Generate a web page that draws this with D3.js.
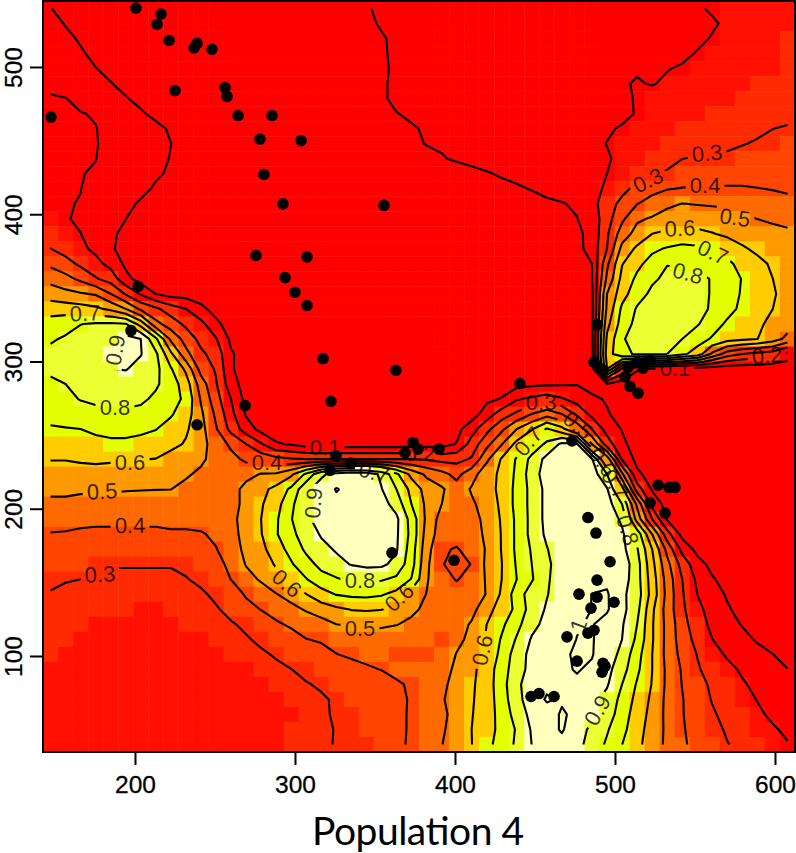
<!DOCTYPE html>
<html>
<head>
<meta charset="utf-8">
<script src="https://cdn.jsdelivr.net/npm/d3@7"></script>
<style>
html, body { margin: 0; padding: 0; background: #fff; }
svg { display: block; }
</style>
</head>
<body>
<div id="chart"></div>
<script>
// density, percent, top row first, 50 columns by 50 rows
var densityRows = [
[10.1,9,8,7,6,6,6,6,6,6, 6,6,6,6,6,6,6,6,6,6, 8,9.5,11,11,12,12,13,13,14,14, 15,15,16,16,17,17,17,17,18,18, 18,18,19,19.5,20.5,21,21,22,22,23],
[13,9.5,8,7,6,6,6,6,6,6, 6,6,6,6,6,6,6,6,6,6, 8,9,10.5,11,12,12,13,13,14,14, 15,15,16,16,17,17,17,17,18,18, 18,18,18,19,19.5,20.7,21,22,22,23],
[15,12,9,8,7,6,6,6,6,6, 6,6,6,6,6,6,6,6,6,6, 7,8.5,9.5,11,12,12,13,13,14,14, 15,15,16,16,17,17,17,18,18,18, 18,18,19,19,20.3,21.5,22,23,23,24],
[16,14,11,8,7,6,6,6,6,6, 6,6,6,6,6,6,6,6,6,6, 7,8,9,11.5,12,12,13,13,14,14, 15,15,16,16,17,17,18,18,18,18, 18,19,19,20.3,21.5,22,22,23,23,24],
[17,15,13,10.2,8,6,6,6,6,6, 6,6,6,6,6,6,6,6,6,6, 7,8,8.5,11.5,12,12,13,13,14,14, 15,15,16,16,17,17,18,18,18.5,19.5, 19,19.8,20.5,21.5,22,22,23,23,23.5,24.5],
[19,17,15,13,10.3,8,6,6,6,6, 6,6,6,6,6,6,6,6,6,6, 7,8,9,11.5,12,12,13,13,14,14, 15,15,16,16,17,17,18,18.5,19.5,20.4, 19.7,20.8,22,22,23,23,23.5,24,24,25],
[20.4,20.2,18,16,13,10.5,8,6,6,6, 6,6,6,6,6,6,6,6,6,6, 7,8,9,11.5,12,13,13,14,14,15, 15,16,16,17,17,18,18,18.5,19.5,20.2, 22,22.5,23,23,23.5,23.5,24.5,24.5,25,26],
[20.4,20.4,20.3,19.5,16,14,11,8,6,6, 6,6,6,6,6,6,6,6,6,6, 7,7,8.5,9.8,11,12,13,13,14,14, 15,15,16,16,17,17,18,18.5,19,20.3, 22,22.5,23,23.5,24.5,24.5,25,26,26.5,27],
[20.5,20.5,20.4,20.2,18,16,14,12,9,6, 6,6,6,6,6,6,6,6,6,6, 6,7,7,8,9.4,10.7,11,11,12,12, 13,14,14,15,16,17,18,19.5,20.4,21.5, 22.5,23.5,24.5,24.5,25.5,26,27,28,29.9,31],
[20.5,20.5,20.4,20.2,19,17,15,13,10.1,7, 6,6,6,6,6,6,6,6,6,6, 6,6,7,7,9,10.2,10.5,11,11.5,12, 12.5,13,14,15,16,17,19,20.1,21,22, 23,24.5,25,26,26.5,28,29.5,31,32,33],
[20.5,20.4,20.3,20.1,18,17,15,13,9.5,7, 6,6,6,6,6,6,6,6,6,6, 6,6,6,7,7,8.5,9.7,10.5,11,11.5, 12,12.5,13.5,14,15,16,18,19.6,21,23, 24.5,26,29.9,31,32,32,33.5,33.5,34,35],
[20.5,20.4,20.2,19.5,17,16,13,11,9,7, 6,6,6,6,6,6,6,6,6,6, 6,6,6,6,6.5,7,7.5,8,9,9.7, 10.4,11,12,13,14,16,18,20,22,26, 29.5,31.5,34,35,36,36,36,36,36.5,37],
[20.5,20.4,20.1,18,16,14,12,9,7,6, 6,6,6,6,6,6,6,6,6,6, 6,6,6,6,6,6,7,7,8,8.5, 9,9.5,10.2,11.5,13,15,18,21,27,33, 37,39.5,40.5,41,41,41,41,40.3,39.6,39],
[20.5,20.3,19.8,17,15,12,9,6,6,6, 6,6,6,6,6,6,6,6,6,6, 6,6,6,6,6,6,6,6,7,7, 7,8,8.5,9,9.6,11,17,25,33,39.7, 44,48,50.2,49.5,49,48.5,47.5,46,44,42],
[21,20.5,19,16,13,10.1,7,6,6,6, 6,6,6,6,6,6,6,6,6,6, 6,6,6,6,6,6,6,6,6,6, 6,6,7,7,8,9.8,14,26,38,48.5, 51,54,55,56,55,54,51.5,49.9,48,47],
[27,22,20.1,17,11.5,8,6,6,6,6, 6,6,6,6,6,6,6,6,6,6, 6,6,6,6,6,6,6,6,6,6, 6,6,6,6,6,8,13,28.5,45,53.5, 60,62,63,62,60.5,58,57,56,54,52],
[30.2,26,22,18,11.5,6,6,6,6,6, 6,6,6,6,6,6,6,6,6,6, 6,6,6,6,6,6,6,6,6,6, 6,6,6,6,6,7,14,30,53,62, 68,71,73,72,69.5,66.5,61,58.5,56,54],
[38,34,28,23,17,8,6,6,6,6, 6,6,6,6,6,6,6,6,6,6, 6,6,6,6,6,6,6,6,6,6, 6,6,6,6,6,7,10,38,59.5,67.5, 74,79.7,79,78,76,72,67,62,59,56],
[47,43,38,31,26,13,6,6,6,6, 6,6,6,6,6,6,6,6,6,6, 6,6,6,6,6,6,6,6,6,6, 6,6,6,6,6,7,9.5,42,63,72, 78.5,82,83,82,79.5,75,69.5,65,60.1,57],
[55,53,51,49,40.1,29,19,9.9,6,6, 6,6,6,6,6,6,6,6,6,6, 6,6,6,6,6,6,6,6,6,6, 6,6,6,6,6,7,8,50,66,76, 82,85,86,84,79,74.5,69,65,61,57],
[66,65,64,62,58,50.1,38,32,25,20.1, 12,7,6,6,6,6,6,6,6,6, 6,6,6,6,6,6,6,6,6,6, 6,6,6,6,6,7,8,52,72,81, 85,87,86,85,78,73,68,64,60.1,56],
[74,77,79.8,81,81.5,80.5,66,43,35,28, 23,12,6,6,6,6,6,6,6,6, 6,6,6,6,6,6,6,6,6,6, 6,6,6,6,6,7,8,57,74.5,83, 86,86,84,81,74,68.5,65,61.5,58,55],
[79,81,83,85,87,93,90,72,48,36, 27,20.8,8,6,6,6,6,6,6,6, 6,6,6,6,6,6,6,6,6,6, 6,6,6,6,6,7,8,62,79,84, 84,84,80,74,69,64,62,60.1,55,47],
[82,83,85,87,90,96,90.5,82,62,43, 32,26,11,6,6,6,6,6,6,6, 6,6,6,6,6,6,6,6,6,6, 6,6,6,6,6,7,7,65,78,81, 81,80,72,66,48,35,30,27,25,17],
[82,84,85,87,89.8,90.5,87,83,71,58, 36,29,11,6,6,6,6,6,6,6, 6,6,6,6,6,6,6,6,6,6, 6,6,6,6,6,6,5,60,28,11, 8,7,6,5,4,3,3,3,2,2],
[78,80,82,84,85,85,84,81.5,75,65, 45,31,14,6,6,6,6,6,6,6, 6,6,6,6,6,6,6,6,6,6, 6,7,8,8.5,9,9.6,6,9.5,5,4, 4,4,4,4,4,3,3,3,3,3],
[76,77.5,80.5,82,83,83,82,78,74,68, 49,34,20,7,6,6,6,6,6,6, 6,6,6,6,6,6,6,6,6,8, 10.5,19,22,25,21,16,12,9,6,5, 4,4,4,4,4,3,3,3,3,3],
[73,74,75.5,77,78,78,77,74,71,65, 52,38,23,9,6,6,6,6,6,6, 6,6,6,6,6,6,6,6,5,15, 25,32,40.2,46,40.2,28,17,11,6,5, 4,4,4,4,4,3,3,3,3,3],
[69,69.5,70,72,73,73,72,70.3,66.5,61.5, 53.5,41,27,15,7,5,5,5,5,5, 5,5,5,5,5,5,7,7,16,27, 38,50,59,71,63,48,30,16,9.5,6, 4,4,4,4,4,3,3,3,3,3],
[65,65,66,67,68,68,67,66,63,59, 53,46,38,30.1,21,11,9,6,5,5, 5,5,5,5,6,6,6,10.5,24,37, 49.5,63,73,82,92,91,50,25,12,6, 4,4,4,4,4,3,3,3,3,3],
[60.3,60.3,61,61,61,61,60.3,59.8,56,53, 51.5,47,43,38,36,33,31,30,30,30, 30,30,30,30,30,29,27,27,31,48, 61,71,83,93,96,97,91,56,19,7, 4,4,4,4,3,3,3,3,3,3],
[57,57,57,58,57,57,56,55,53.5,51, 48.5,45,44,47,50.5,51,58,72,88,94, 97,96,88,72,57,48,43,37,46,56, 62,72,85,95,97,98,96,80,42,12, 6,4,4,4,3,3,3,3,3,3],
[52,52,51,51,51,50.5,50.3,50.2,50.1,48, 45,43,46,53,57,63,72,88,95,100.5, 98,98,90.5,80,67,56,51.5,44,51,57, 62,73,83,93,97,98,97,91,64,25, 9,6,4,4,3,3,3,3,3,3],
[48,48,48,48,47,47,47,46,46,45, 44,43,46,53,59,66,78,88,96,98, 99,99,94,86,70,58,50.1,44,48.5,54, 62,73,83,93,97,98,98,95,80,48, 17,6,4,4,3,3,3,3,3,3],
[44,44,43,43,43,43,43,43,44,44, 44,44,48,53,60,68.5,79.5,88,94,99, 99,99,99,92,76,58,46,41.5,46,53, 61,72,83,93,98,98,98,97,88,56, 30,9,4,4,3,3,3,3,3,3],
[39.5,39,38,37,37,37,37,37,38,38, 39,42,48,52,59.5,69,78,84,91,96, 98,98,98,91.5,77,56,45,43,44,52.5, 60.5,72,83,92,98,98,98,99,92,76, 50.1,24,7,4,3,3,3,3,3,3],
[37,36,35,35,35,35,35,35,35,36, 37,39.5,46,52,57,66,73,82,87,91, 95,97,97,91,75,54,41,39.4,43,51, 60.5,72,81,89.5,96,98,98,99,93,81, 60.1,37,17,7,3,3,3,3,3,3],
[34,33,33,32,31,31,31,31,31,32, 33,36,43,50.5,55,61,69,76,83,87, 90.5,92,92,87,74,52,41,35,40.5,52, 59.8,71,80,88,95,97,98,98,96,84, 63,43,26,14,7,3,3,3,3,3],
[31.5,30.6,30,28.5,27,27,27,27,27,29.5, 32,36,40.1,47,51,57,61.5,69.5,76,79, 82,83,81,78,69.5,51,43,39.5,43,51, 60,70,79,89,94,97,98,98,95,84, 65,46,30.1,18,11,6,3,3,3,3],
[29.5,28,27,26,25,25,25,25,25,26, 28.5,32,35,41,46,49.5,54,59.8,66,70.5, 72,72.5,71,67,55,49.8,44.5,43.5,44.5,50.5, 61.5,75,85,89.5,95,98,100.1,101,92,85, 66,47,31,20,14,9,5,3,3,3],
[27,26,25,24,24,24,23,23,24,25, 26,29,33,37,40.3,44,47,51,55,58, 60.5,61,60.3,58,53,47,45,44,47,56, 65,72,85,91,97,98,100.1,101,93,83, 62,46,32,22,17,11,7,4,3,3],
[26,25,24,23,23,23,23,23,23,24, 25,26,29,32,35,38.5,41.5,44,46,50, 51,52,52,50.5,47,44,42,46,51,60, 68,77,87,93,97,99.6,100.5,97,91,80, 61,47,34,24,18,13,9.5,6,4,3],
[25,24,23,22,22,22,22,22,22,23, 23,24,26,29,32,34,36,39.8,41,43, 43,44,44,43,42,42,41,47,53,61, 71,81,91,96,98,100.1,100.6,96,90,78, 61,47,35,27,20.1,16,12.5,9,6,4],
[24,23,22,21,21,21,21,21,21,21, 22,22,24,25,28.5,31,33,35,37,39.8, 41.3,42,42,41,40.5,41,42,50.5,54,62, 73,85,93,97,99,100.8,100.4,96,87,74, 60.1,47,37,29.7,23,19,16,13,10.2,7],
[23,22,21,21,21,21,21,21,21,21, 21,21,22,23,25,28,29.9,32,34,36, 37,39,40.2,42,42,43,46,52,57.5,65, 75,86,93,97,99,100.4,99,93,84,72, 60.1,48,39,31,26.5,22,19,16.5,13,10.2],
[22,21,21,21,21,21,21,21,21,21, 21,21,21,22,23,25,27,29.5,31,33, 34,35,36.5,39,41,43,48,53,58.5,65, 76,88,95,98,99,99,97,91,80,69, 59.5,48,39.7,33,28.5,24.5,20.7,18.5,16,13],
[21,21,21,21,21,21,21,21,21,21, 21,21,21,21,22,23,25,27,29,31, 33,34,36,37.5,41,46,49,54,59,65, 75,87,95,101,99,98,93,87,77,67, 58,47.5,40.5,34.5,29.5,26,23,19.7,18,15],
[21,21,21,21,21,21,21,21,21,21, 21,21,21,21,21,22,23,25,29.6,30.3, 32,33,35,38,41,44,48,53,59.5,65, 74,84,93,96,101,98,92,85,75,65, 57,47.5,40.5,35.5,31,27.5,24.5,21.5,18.5,16],
[21,21,21,21,21,21,21,21,21,21, 21,21,21,21,22,22,24,26,28,30.5, 32,33,35,38,41,45,49,53,60,66, 73,81,91,96,101,94,88,81,73,63.5, 56,48,41,36,32.5,29,26,23.5,21,18.5],
[22,22,21,21,21,21,21,21,21,21, 21,21,22,22,22,23,25,27,28.5,30.5, 31,32,35,38.5,41,45,49.8,53,59.8,68, 73,82,90.1,96,97,93,86,78.5,70.1,62.5, 55,48,41.5,37,33,30.3,28,25.5,23.5,20.5]
];

var colorBreaks = [20.6, 24, 33, 41.5, 50, 58.5, 68, 80, 90];
var colorList = ["#ff0000", "#ff1000", "#ff2a00", "#ff4500", "#ff6a00", "#ff9900", "#ffcc00", "#e3ff00", "#ecff33", "#ffffbe"];
var contourLevels = [10, 20, 30, 40, 50, 60, 70, 80, 90, 100];

var xTicks = [200, 300, 400, 500, 600];
var yTicks = [100, 200, 300, 400, 500];

var dotX = [200.6,216.3,213.8,221.3,238.8,236.9,248.1,225,256.3,257.5,264.4,285.6,147.5,278.1,303.8,280.6,292.5,355.6,275.6,307.5,293.8,300,307.5,201.9,197.5,317.5,363.1,322.5,268.8,238.8,440.6,
  325.6,335,321.9,360.6,368.8,373.8,376.9,390,399.4,
  473.1,483.1,488.1,496.9,488.8,477.5,488.8,499.4,485,486.9,483.1,470,476.3,492.5,493.8,491.9,447.5,452.5,461.9,
  526.9,533.8,537.5,521.9,531.3,
  488.8,489.4,492.5,506.3,509.4,514.4,508.1,513.8,517.5,520,521.9,486.9];
var dotY = [540,536,529,518,516,513,512,484,486,480,467,467,466,451,450,427,407,406,372,371,357,347,338,351,321,302,294,273,270,257,285,
  236,231,226,170,238,245,240.5,240.5,165,
  246,194,183.5,164,151.5,142,140,136.5,132.5,117.5,115.5,113,96.5,95,93,89,72.5,74.5,72.5,
  216,214.5,214.5,204,197,
  325,296,294,289.5,283,278.5,296,299.5,295.5,299.5,301,299.5];

var labelLevel = [70,90,80,60,50,40,30,40,10,20,70,90,60,80,50,60,60,70,30,50,60,70,80,90,30,30,40,50,60,70,80,10,20,100];
var labelText = ["0.7","0.9","0.8","0.6","0.5","0.4","0.3","0.4","0.1","0.2","0.7","0.9","0.6","0.8","0.5","0.6","0.6","0.7","0.3","0.5","0.6","0.7","0.8","0.9","0.3","0.3","0.4","0.5","0.6","0.7","0.8","0.1","0.2","1"];
var labelX = [168.8,187.5,187.5,196.9,179.4,196.9,178.1,282.5,318.8,378.1,349.4,311.3,295,340.6,340.6,365,416.9,445.6,453.8,476.9,492.5,500,508.1,488.8,520.6,557.5,556.3,575,540.6,561.3,545.6,537.5,595,476.9];
var labelY = [332.9,307.7,269,231.7,212,188.9,155.6,231.7,241.8,237.8,224.9,203.8,149.5,151.5,118.9,140,104,245.9,272.4,256.8,231.7,216.7,185.5,63.2,423.2,441.6,419.8,398,390.6,374.3,360.1,295.5,304.3,120.9];
var labelAngle = [-2,-80,0,0,-3,-1,-3,0,0,0,15,-85,40,0,0,-42,-78,-50,0,40,55,58,72,-60,-25,-5,0,8,-3,25,15,0,-5,-70];

var svgWidth = 796;
var svgHeight = 853;
var left = 43, right = 795, top_ = 1, bottom = 752;

var xMin = 142.5, xMax = 612.5, yMin = 34.8, yMax = 544.8;
var nCols = 50, nRows = 50;
var cellW = (xMax - xMin) / nCols;
var cellH = (yMax - yMin) / nRows;

var xScale = d3.scaleLinear().domain([xMin, xMax]).range([left, right]);
var yScale = d3.scaleLinear().domain([yMin, yMax]).range([bottom, top_]);
var colorScale = d3.scaleThreshold().domain(colorBreaks).range(colorList);

var svg = d3.select("#chart").append("svg")
    .attr("width", svgWidth)
    .attr("height", svgHeight);

// heat cells
var cells = [];
densityRows.forEach(function(row, r) {
    row.forEach(function(v, c) {
        cells.push({r: r, c: c, v: v});
    });
});
svg.append("g").selectAll("rect")
    .data(cells)
    .enter().append("rect")
    .attr("x", d => xScale(xMin + d.c * cellW))
    .attr("y", d => yScale(yMax - d.r * cellH))
    .attr("width", xScale(xMin + cellW) - xScale(xMin) + 0.5)
    .attr("height", yScale(yMin) - yScale(yMin + cellH) + 0.5)
    .attr("fill", d => colorScale(d.v));

// contour rings come back closed along the edge of the grid, cut those parts off
function openLines(ring) {
    var inside = p => p[0] >= 0.5 && p[0] <= nCols - 0.5 && p[1] >= 0.5 && p[1] <= nRows - 0.5;
    var pts = ring.slice(0, ring.length - 1);
    var start = pts.findIndex(p => !inside(p));
    if(start == -1) return [ring];
    var lines = [];
    var current = [];
    for(var i = 0; i < pts.length; i++) {
        var p = pts[(start + i) % pts.length];
        if(inside(p)) {
            current.push(p);
        } else if(current.length) {
            lines.push(current);
            current = [];
        }
    }
    if(current.length) lines.push(current);
    return lines;
}

var contourLine = d3.line()
    .x(p => xScale(xMin + p[0] * cellW))
    .y(p => yScale(yMax - p[1] * cellH));

var flat = [].concat.apply([], densityRows);
var contourSets = d3.contours().size([nCols, nRows]).thresholds(contourLevels)(flat);

var defs = svg.append("defs");
var lineGroup = svg.append("g");

contourSets.forEach(function(set) {
    var maskId = "gap" + set.value;
    var mask = defs.append("mask").attr("id", maskId).attr("maskUnits", "userSpaceOnUse")
        .attr("x", 0).attr("y", 0).attr("width", svgWidth).attr("height", svgHeight);
    mask.append("rect").attr("width", svgWidth).attr("height", svgHeight).attr("fill", "#fff");
    labelLevel.forEach(function(level, i) {
        if(level != set.value) return;
        var w = labelText[i].length * 11 + 6;
        mask.append("rect")
            .attr("x", -w / 2).attr("y", -10).attr("width", w).attr("height", 20)
            .attr("fill", "#000")
            .attr("transform", "translate(" + xScale(labelX[i]) + "," + yScale(labelY[i]) + ") rotate(" + labelAngle[i] + ")");
    });
    var d = "";
    set.coordinates.forEach(function(polygon) {
        polygon.forEach(function(ring) {
            openLines(ring).forEach(function(line) {
                d += contourLine(line);
            });
        });
    });
    lineGroup.append("path")
        .attr("d", d)
        .attr("fill", "none")
        .attr("stroke", "#000")
        .attr("stroke-width", 2.1)
        .attr("stroke-linejoin", "round")
        .attr("mask", "url(#" + maskId + ")");
});

// contour labels
svg.append("g").selectAll("text")
    .data(labelText)
    .enter().append("text")
    .attr("transform", (d, i) => "translate(" + xScale(labelX[i]) + "," + yScale(labelY[i]) + ") rotate(" + labelAngle[i] + ")")
    .attr("text-anchor", "middle")
    .attr("dy", "0.36em")
    .attr("font-family", "'Liberation Sans', sans-serif")
    .attr("font-size", 22)
    .attr("fill", "#000")
    .attr("fill-opacity", 0.8)
    .text(d => d);

// sample points
svg.append("g").selectAll("circle")
    .data(dotX)
    .enter().append("circle")
    .attr("cx", d => xScale(d))
    .attr("cy", (d, i) => yScale(dotY[i]))
    .attr("r", 5.8)
    .attr("fill", "#000");

// box and axes
svg.append("rect")
    .attr("x", left).attr("y", top_)
    .attr("width", right - left).attr("height", bottom - top_)
    .attr("fill", "none").attr("stroke", "#000").attr("stroke-width", 2);

var xAxis = svg.append("g")
    .attr("transform", "translate(0," + bottom + ")")
    .call(d3.axisBottom(xScale).tickValues(xTicks).tickSize(13).tickPadding(11).tickSizeOuter(0));
var yAxis = svg.append("g")
    .attr("transform", "translate(" + left + ",0)")
    .call(d3.axisLeft(yScale).tickValues(yTicks).tickSize(13).tickPadding(10).tickSizeOuter(0));

xAxis.select(".domain").remove();
yAxis.select(".domain").remove();
svg.selectAll(".tick line").attr("stroke", "#000").attr("stroke-width", 2);
svg.selectAll(".tick text")
    .attr("font-family", "'Liberation Sans', sans-serif")
    .attr("font-size", 24.5)
    .attr("fill", "#000")
    .attr("stroke", "#000")
    .attr("stroke-width", 0.3);
yAxis.selectAll(".tick text")
    .attr("transform", "rotate(-90)")
    .attr("text-anchor", "middle")
    .attr("x", 0)
    .attr("y", -21.5)
    .attr("dy", 0);

svg.append("text")
    .attr("x", (left + right) / 2 - 1)
    .attr("y", 845)
    .attr("text-anchor", "middle")
    .attr("font-family", "Lato, sans-serif")
    .attr("font-size", 39)
    .attr("textLength", 212)
    .attr("lengthAdjust", "spacing")
    .attr("fill", "#000")
    .text("Population 4");
</script>
</body>
</html>
